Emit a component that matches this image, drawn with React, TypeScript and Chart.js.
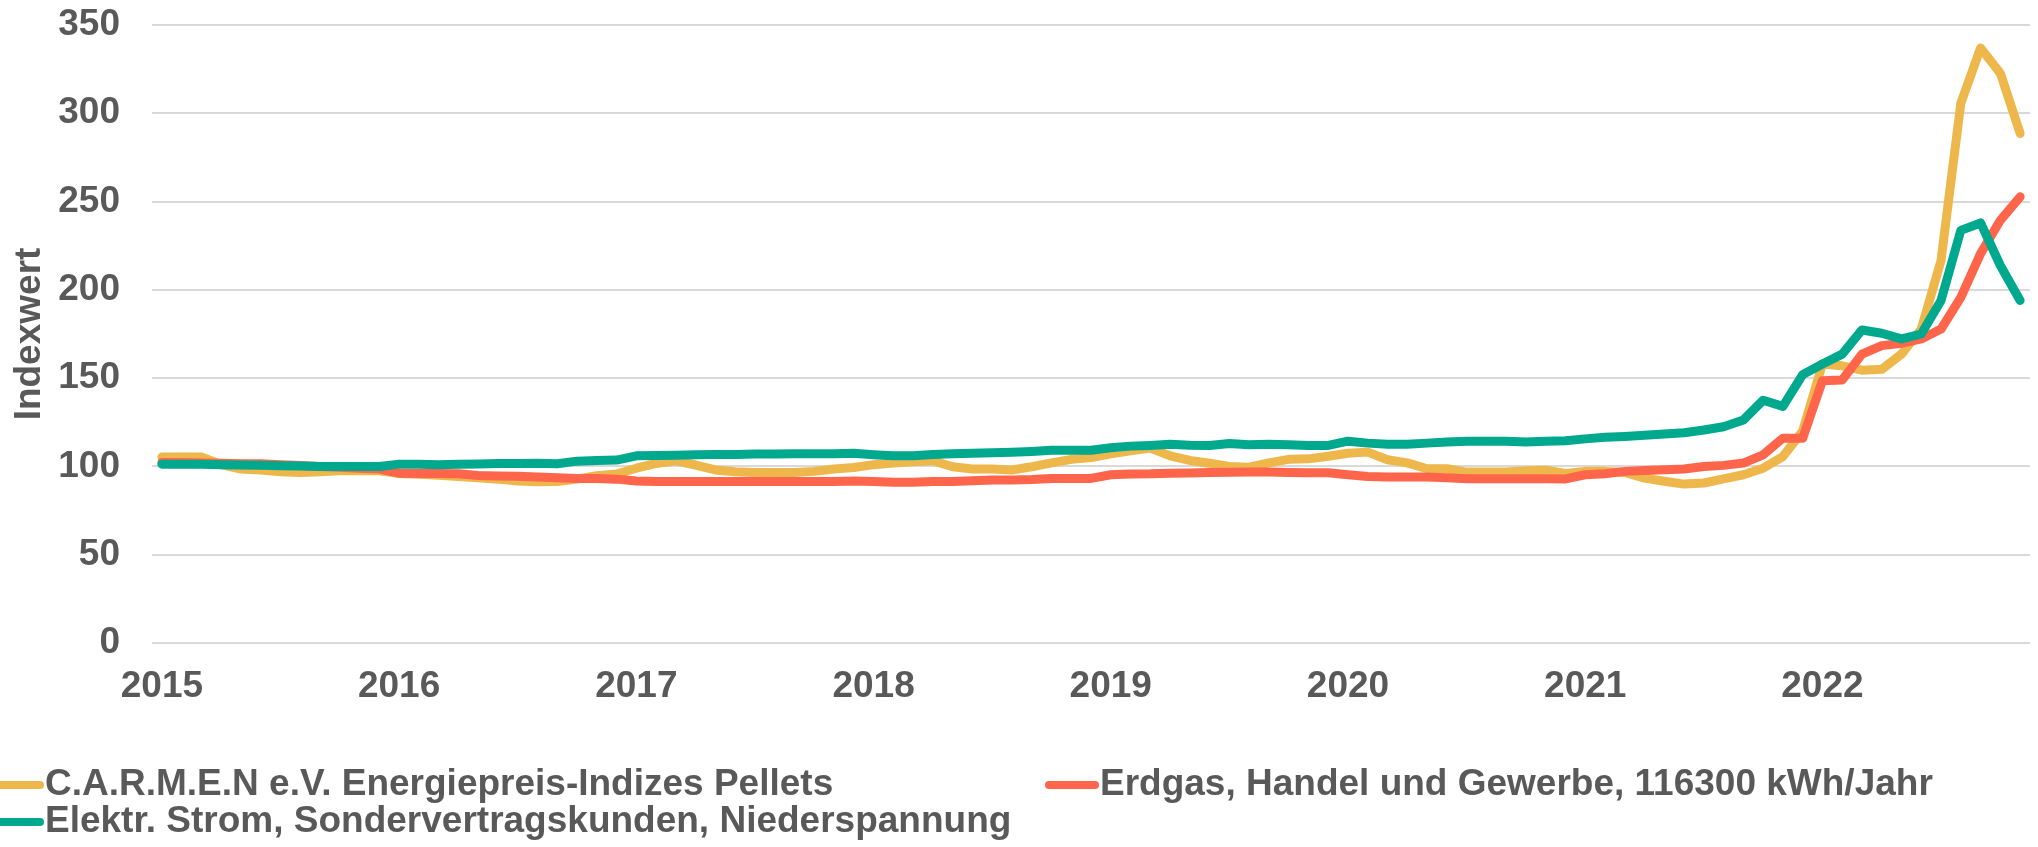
import React, { useEffect, useRef } from 'react';
import { Chart, registerables } from 'chart.js';

Chart.register(...registerables);

// ---- data ----
const years = ['2015', '2016', '2017', '2018', '2019', '2020', '2021', '2022'];
const monthCodes = ['01', '02', '03', '04', '05', '06', '07', '08', '09', '10', '11', '12'];
const monthsInLastYear = 11;

const seriesNames = [
  'C.A.R.M.E.N e.V. Energiepreis-Indizes Pellets',
  'Erdgas, Handel und Gewerbe, 116300 kWh/Jahr',
  'Elektr. Strom, Sondervertragskunden, Niederspannung',
];

const pellets = [
  105.3, 105.3, 105.3, 101, 98.5, 98, 97, 96.5, 97, 97.5, 97.5, 97.5,
  96, 95.5, 95, 94.3, 93.6, 92.8, 91.7, 91.3, 91.5, 92.8, 94.7, 95.7,
  99, 101.7, 103.2, 100.8, 98, 97, 96.6, 96.6, 96.6, 97.2, 98.5, 99.4,
  101, 102, 102.6, 103.2, 99.8, 98.5, 98.5, 98, 99.8, 102, 104, 105,
  107.2, 108.9, 110.4, 106, 103.4, 101.8, 100, 99.6, 102, 104, 104.3, 105.8,
  107.5, 108.1, 103.8, 102, 98.7, 98.7, 96.8, 96.8, 96.8, 97.5, 97.9, 96,
  97.2, 97.2, 96.6, 93.4, 91.6, 90, 90.6, 92.9, 95.3, 99, 105.6, 120,
  158, 157, 154.5, 155, 163.6, 177.8, 216.7, 305.7, 337, 322.7, 288.6,
];

const erdgas = [
  102.2, 102.2, 102, 101.8, 101.5, 101.5, 101, 100.5, 100, 99.5, 99, 98.5,
  96.2, 96, 96, 95.8, 94.9, 94.6, 94.5, 94, 93.6, 93.2, 93.2, 92.8,
  91.7, 91.5, 91.5, 91.5, 91.5, 91.5, 91.5, 91.5, 91.5, 91.5, 91.5, 91.7,
  91.5, 91, 91, 91.5, 91.5, 91.9, 92.3, 92.3, 92.6, 93.2, 93.2, 93.2,
  95.3, 95.7, 95.8, 96.2, 96.3, 96.5, 96.7, 96.8, 96.8, 96.6, 96.4, 96.4,
  95.3, 94.3, 94, 94, 94, 93.6, 93, 93, 93, 93, 93, 92.9,
  95.3, 95.9, 97.2, 97.7, 98.1, 98.5, 100, 100.6, 101.9, 106.6, 116, 116,
  148.5, 149, 163.6, 168.4, 169.7, 172.2, 177.8, 195.8, 220.5, 239.4, 252.7,
];

const strom = [
  101.3, 101.3, 101.2, 101, 100.8, 100.6, 100.4, 100.2, 100, 100, 100, 100,
  101.3, 101.2, 101, 101.2, 101.4, 101.6, 101.7, 101.8, 101.5, 103, 103.4, 103.6,
  106, 106.2, 106.4, 106.6, 106.8, 106.8, 107, 107, 107.2, 107.2, 107.2, 107.4,
  106.6, 106, 106, 106.8, 107.2, 107.4, 107.7, 108, 108.5, 109.2, 109.2, 109.2,
  110.6, 111.5, 111.9, 112.5, 112, 111.9, 113, 112.3, 112.5, 112.3, 111.9, 111.9,
  114.3, 113.2, 112.5, 112.5, 113.2, 113.8, 114.2, 114.2, 114.3, 113.8, 114.2, 114.6,
  115.6, 116.5, 117, 117.6, 118.4, 119.1, 120.6, 122.5, 126.3, 137.5, 134, 152,
  158, 163.6, 177.3, 175.4, 172.2, 175, 194, 233.7, 237.9, 213.8, 194,
];

const yMin = 0;
const yMax = 350;
const yStep = 50;
const yTitle = 'Indexwert';

// ---- style ----
const colors = ['#EEB74B', '#FF654A', '#00A88E'];
const textColor = '#595959';
const fontFamily = '"Liberation Sans", Arial, sans-serif';

const categories: string[] = [];
years.forEach((y, yi) => {
  const n = yi === years.length - 1 ? monthsInLastYear : 12;
  for (let m = 0; m < n; m++) categories.push(`${y}-${monthCodes[m]}`);
});

const legendPlugin = {
  id: 'bottomLegend',
  afterDraw(chart: any) {
    const ctx = chart.ctx as CanvasRenderingContext2D;
    const items = [
      { idx: 0, x0: -10, x1: 40, tx: 45, y: 785 },
      { idx: 1, x0: 1049, x1: 1095, tx: 1100, y: 785 },
      { idx: 2, x0: -10, x1: 40, tx: 45, y: 822 },
    ];
    ctx.save();
    items.forEach((it) => {
      ctx.beginPath();
      ctx.strokeStyle = colors[it.idx];
      ctx.lineWidth = 8;
      ctx.lineCap = 'round';
      ctx.moveTo(it.x0, it.y);
      ctx.lineTo(it.x1, it.y);
      ctx.stroke();
      ctx.fillStyle = textColor;
      ctx.font = `bold 37px ${fontFamily}`;
      ctx.textBaseline = 'middle';
      ctx.textAlign = 'left';
      ctx.fillText(seriesNames[it.idx], it.tx, it.y);
    });
    ctx.restore();
  },
};

export default function App() {
  const ref = useRef<HTMLCanvasElement>(null);

  useEffect(() => {
    if (!ref.current) return;
    const mk = (i: number, data: number[], order: number) => ({
      label: seriesNames[i],
      data,
      borderColor: colors[i],
      backgroundColor: colors[i],
      borderWidth: 9,
      pointRadius: 0,
      tension: 0,
      borderJoinStyle: 'round' as const,
      borderCapStyle: 'round' as const,
      order,
    });
    const chart = new Chart(ref.current, {
      type: 'line',
      data: {
        labels: categories,
        datasets: [mk(0, pellets, 2), mk(1, erdgas, 1), mk(2, strom, 0)],
      },
      options: {
        animation: false,
        responsive: false,
        devicePixelRatio: 1,
        layout: { padding: { top: 25, right: 8, bottom: 124, left: 0 } },
        plugins: {
          legend: { display: false },
          tooltip: { enabled: false },
        },
        scales: {
          x: {
            type: 'category',
            offset: true,
            grid: {
              display: true,
              color: 'rgba(0,0,0,0)',
              drawTicks: true,
              tickLength: 22,
              tickColor: 'rgba(0,0,0,0)',
            },
            border: { display: false },
            ticks: {
              autoSkip: false,
              maxRotation: 0,
              minRotation: 0,
              padding: 0,
              color: textColor,
              font: { family: fontFamily, size: 37, weight: 'bold', lineHeight: 1.2 },
              callback: (_v: any, index: number) => {
                const c = categories[index];
                return c.endsWith('-01') ? c.slice(0, 4) : '';
              },
            },
            afterFit: (scale: any) => {
              scale.height = 80;
            },
          },
          y: {
            min: yMin,
            max: yMax,
            grid: {
              color: '#D9D9D9',
              lineWidth: 2,
              drawTicks: true,
              tickLength: 32,
              tickColor: 'rgba(0,0,0,0)',
            },
            border: { display: false },
            ticks: {
              stepSize: yStep,
              padding: 0,
              color: textColor,
              font: { family: fontFamily, size: 37, weight: 'bold', lineHeight: 1.2 },
            },
            title: {
              display: true,
              text: yTitle,
              color: textColor,
              padding: { top: 8, bottom: 0 },
              font: { family: fontFamily, size: 37, weight: 'bold', lineHeight: 1.2 },
            },
            afterFit: (scale: any) => {
              scale.width = 152;
            },
          },
        },
      },
      plugins: [legendPlugin],
    });
    return () => chart.destroy();
  }, []);

  return (
    <div style={{ position: 'fixed', left: 0, top: 0, width: 2038, height: 847, background: '#fff' }}>
      <canvas ref={ref} width={2038} height={847} style={{ display: 'block' }} />
    </div>
  );
}
